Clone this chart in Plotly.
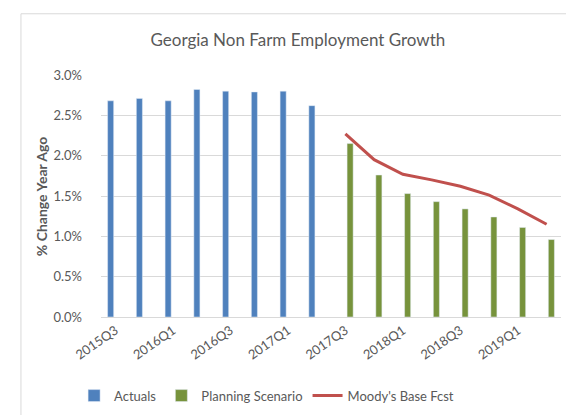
import plotly.graph_objects as go

categories = ["2015Q3", "2015Q4", "2016Q1", "2016Q2", "2016Q3", "2016Q4", "2017Q1", "2017Q2",
              "2017Q3", "2017Q4", "2018Q1", "2018Q2", "2018Q3", "2018Q4", "2019Q1", "2019Q2"]
actuals = [2.68, 2.71, 2.68, 2.82, 2.80, 2.79, 2.80, 2.62,
           None, None, None, None, None, None, None, None]
planning = [None, None, None, None, None, None, None, None,
            2.15, 1.76, 1.53, 1.43, 1.34, 1.24, 1.11, 0.96]
moodys = [None, None, None, None, None, None, None, None,
          2.27, 1.95, 1.77, 1.70, 1.62, 1.51, 1.34, 1.15]
tick_labels = ["2015Q3", "2016Q1", "2016Q3", "2017Q1", "2017Q3", "2018Q1", "2018Q3", "2019Q1"]
y_ticks = [0, 0.5, 1.0, 1.5, 2.0, 2.5, 3.0]

FONT = "Lato"
GRAY = "#595959"

fig = go.Figure()
fig.add_trace(go.Bar(x=categories, y=actuals, name="Actuals", marker_color="#4F81BD"))
fig.add_trace(go.Bar(x=categories, y=planning, name="Planning Scenario", marker_color="#77933C"))
fig.add_trace(go.Scatter(x=categories, y=moodys, name="Moody's Base Fcst", mode="lines",
                         line=dict(color="#C0504D", width=3)))

fig.update_layout(
    width=574, height=415,
    margin=dict(l=93, r=21, t=67, b=104),
    paper_bgcolor="white", plot_bgcolor="white",
    barmode="group", bargap=0.34, bargroupgap=0.36,
    font=dict(family=FONT, color=GRAY, size=13),
    title=dict(text="Georgia Non Farm Employment Growth", x=0.505, xanchor="center",
               y=0.923, yanchor="middle", font=dict(family=FONT, size=17, color=GRAY)),
    showlegend=True,
    legend=dict(orientation="h", x=0.36, xanchor="center", y=-0.325, yanchor="middle",
                itemwidth=30, font=dict(family=FONT, size=13, color=GRAY), traceorder="normal"),
    xaxis=dict(type="category", tickmode="array", tickvals=tick_labels, ticktext=tick_labels,
               tickangle=-35, showgrid=False, showline=True, linecolor="#D9D9D9",
               ticks="", tickfont=dict(family=FONT, size=13, color=GRAY)),
    yaxis=dict(range=[0, 3.0], tickvals=y_ticks, ticktext=[f"{v:.1f}%" for v in y_ticks],
               showgrid=True, gridcolor="#D9D9D9", gridwidth=1, zeroline=False,
               showline=False, ticks="", ticklabelstandoff=18,
               tickfont=dict(family=FONT, size=13, color=GRAY)),
    annotations=[dict(text="<b>% Change Year Ago</b>", textangle=-90, xref="paper", yref="paper",
                      x=-0.13, y=0.5, xanchor="center", yanchor="middle", showarrow=False,
                      font=dict(family=FONT, size=14, color=GRAY))],
    shapes=[dict(type="rect", xref="paper", yref="paper", x0=-0.174, x1=1.0326,
                 y0=-0.418, y1=1.253, line=dict(color="#D9D9D9", width=1), layer="below")],
)

fig.write_html("out.html")
